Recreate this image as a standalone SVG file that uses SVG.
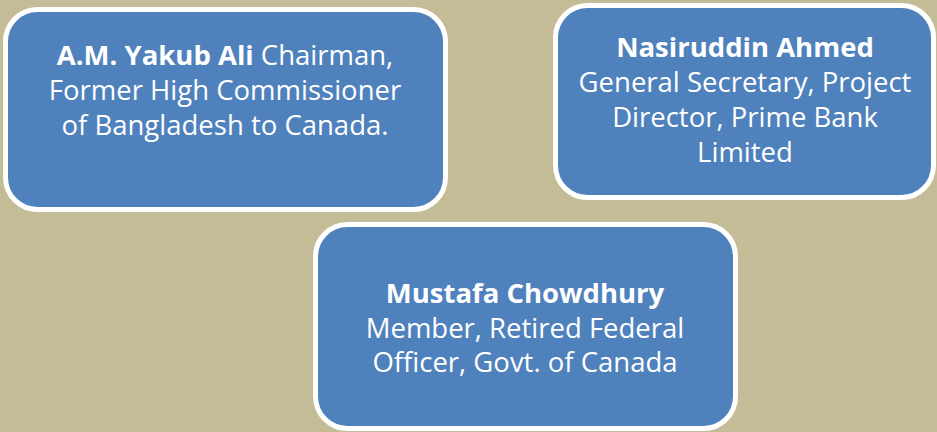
<svg xmlns="http://www.w3.org/2000/svg" width="937" height="432" viewBox="0 0 937 432">
<style>
.box{fill:#4f81bd;stroke:#ffffff;stroke-width:5}
.t{font-family:"Open Sans","Liberation Sans",sans-serif;font-size:27.5px;fill:#ffffff;text-anchor:middle}
.b{font-weight:bold}
</style>
<rect width="937" height="432" fill="#c4bc96"/>
<g id="node-yakub">
<rect class="box" x="5.5" y="9.5" width="440" height="200" rx="32"/>
<text class="t" x="225" y="65"><tspan class="b">A.M. Yakub Ali</tspan> Chairman,</text>
<text class="t" x="225" y="100">Former High Commissioner</text>
<text class="t" x="225" y="135">of Bangladesh to Canada.</text>
</g>
<g id="node-nasiruddin">
<rect class="box" x="555.5" y="5.5" width="378" height="192" rx="32"/>
<text class="t b" x="745" y="57">Nasiruddin Ahmed</text>
<text class="t" x="745" y="92">General Secretary, Project</text>
<text class="t" x="745" y="127">Director, Prime Bank</text>
<text class="t" x="745" y="162">Limited</text>
</g>
<g id="node-mustafa">
<rect class="box" x="315.5" y="224.5" width="420" height="204" rx="32"/>
<text class="t b" x="525" y="303">Mustafa Chowdhury</text>
<text class="t" x="525" y="338">Member, Retired Federal</text>
<text class="t" x="525" y="372">Officer, Govt. of Canada</text>
</g>
<g id="connectors"/>
</svg>
